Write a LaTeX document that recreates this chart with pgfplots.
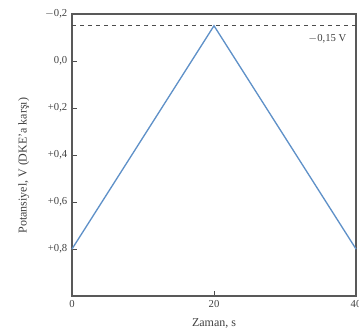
\documentclass[border=0pt]{standalone}
\usepackage{pgfplots}
\pgfplotsset{compat=1.18}
\usepackage{fontspec}
\setmainfont{Liberation Serif}
\definecolor{lineblue}{RGB}{95,145,200}
\begin{document}
\begin{tikzpicture}
\begin{axis}[
  scale only axis,
  width=213pt, height=211.5pt,
  xmin=0, xmax=40,
  ymin=-0.2, ymax=1.0,
  y dir=reverse,
  xtick={0,20,40},
  xticklabels={0,20,40},
  ytick={-0.2,0,0.2,0.4,0.6,0.8},
  yticklabels={{$-$0,2},{0,0},{+0,2},{+0,4},{+0,6},{+0,8}},
  tick align=inside,
  xtick pos=bottom, ytick pos=left,
  major tick length=4pt,
  tick style={black!70, line width=0.6pt},
  axis line style={black!65, line width=0.8pt},
  ticklabel style={font=\footnotesize, text=black!75},
  /pgf/number format/assume math mode=true,
  xlabel={Zaman, s},
  ylabel={Potansiyel, V (DKE'a karşı)},
  label style={font=\small, text=black!75},
  xlabel style={yshift=-1pt},
  ylabel style={yshift=5pt, xshift=-8pt},
  clip=false,
]
\addplot[lineblue, line width=1pt] coordinates {(0,0.8) (20,-0.15) (40,0.8)};
\addplot[black!70, dashed, line width=0.6pt] coordinates {(0,-0.15) (40,-0.15)};
\node[font=\footnotesize, text=black!75, anchor=north east] at (axis cs:39.3,-0.135) {$-$0,15 V};
\coordinate (sw) at (rel axis cs:0,0);
\coordinate (ne) at (rel axis cs:1,1);
\end{axis}
\pgfresetboundingbox
\path ([xshift=-54pt]sw |- sw) ++(0,-29.25pt) coordinate (bl);
\path (ne) ++(2.25pt,10.5pt) coordinate (tr);
\path (bl) rectangle (tr);
\end{tikzpicture}
\end{document}
